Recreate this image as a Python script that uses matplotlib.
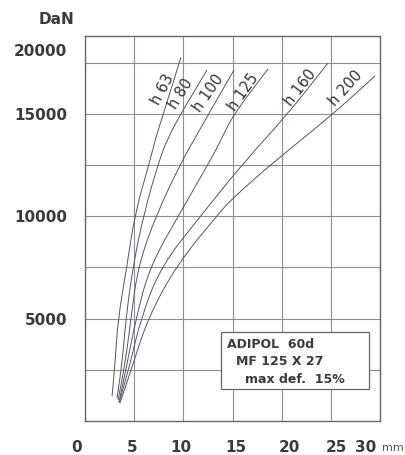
import numpy as np
import matplotlib
matplotlib.use("Agg")
import matplotlib.pyplot as plt
from matplotlib.patches import Rectangle, PathPatch
from matplotlib.path import Path
from matplotlib.transforms import ScaledTranslation

# деформация, мм (ось X) и нагрузка, DaN (ось Y) для каждой высоты h
names = ["h 63", "h 80", "h 100", "h 125", "h 160", "h 200"]

x_h63 = [2.75, 3.05, 3.36, 4.27, 5.08, 6.61, 7.12, 7.93, 9.76]
y_h63 = [1220, 2780, 5030, 7570, 10160, 12700, 13720, 14940, 17770]

x_h80 = [3.25, 3.76, 4.17, 4.88, 6.00, 7.53, 8.34, 9.66, 12.41]
y_h80 = [1120, 2780, 5030, 7570, 10160, 12700, 13720, 14940, 17140]

x_h100 = [3.36, 4.07, 4.68, 5.39, 7.32, 9.86, 11.08, 12.51, 15.15]
y_h100 = [1030, 2780, 5030, 7570, 10160, 12700, 13720, 14940, 17140]

x_h125 = [3.46, 4.27, 5.19, 6.61, 9.66, 12.71, 13.83, 15.05, 18.61]
y_h125 = [930, 2780, 5030, 7570, 10160, 12700, 13720, 14940, 17190]

x_h160 = [3.46, 4.58, 5.69, 7.73, 12.00, 16.27, 20.54, 24.71]
y_h160 = [880, 2780, 5030, 7570, 10160, 12700, 14940, 17480]

x_h200 = [3.56, 4.88, 6.41, 9.25, 13.63, 15.15, 19.32, 25.12, 29.49]
y_h200 = [880, 2780, 5030, 7570, 10160, 10940, 12700, 14940, 16850]

xs = [x_h63, x_h80, x_h100, x_h125, x_h160, x_h200]
ys = [y_h63, y_h80, y_h100, y_h125, y_h160, y_h200]

x_ticks = [0, 5, 10, 15, 20, 25, 30]
y_grid = [2500, 5000, 7500, 10000, 12500, 15000, 17500]
y_labels = ["", "5000", "", "10000", "", "15000", ""]

info = ["ADIPOL  60d", "MF 125 X 27", "max def.  15%"]

# подписи кривых: позиция (x, y) и угол
label_pos = [(7.93, 16160), (9.76, 15970), (12.51, 16020),
             (16.07, 16070), (21.86, 16260), (26.54, 16260)]
label_rot = [62, 58, 55, 55, 52, 48]

# сдвиг подписей оси X в пикселях (как на скане)
x_lab_shift = [-8, -2, -2, 3, 8, 6, -14]

txt = "#3a3a3a"
grid_c = "#8c8c9c"
line_c = "#55555f"


def smooth_path(x, y):
    # квадратичные кривые Безье через середины отрезков
    pts = list(zip(x, y))
    verts = [pts[0]]
    codes = [Path.MOVETO]
    mid = lambda a, b: ((a[0] + b[0]) / 2, (a[1] + b[1]) / 2)
    verts.append(mid(pts[0], pts[1]))
    codes.append(Path.LINETO)
    for i in range(1, len(pts) - 1):
        verts += [pts[i], mid(pts[i], pts[i + 1])]
        codes += [Path.CURVE3, Path.CURVE3]
    verts.append(pts[-1])
    codes.append(Path.LINETO)
    return Path(verts, codes)


def main():
    fig = plt.figure(figsize=(4.06, 4.55), dpi=100)
    ax = fig.add_axes([0.2094, 0.0747, 0.7266, 0.8462])

    ax.set_xlim(0, 30)
    ax.set_ylim(0, 18800)

    # сетка
    ax.set_xticks(x_ticks)
    ax.set_yticks(y_grid)
    ax.set_yticklabels(y_labels)
    ax.grid(True, color=grid_c, linewidth=0.8)
    ax.set_axisbelow(True)
    ax.tick_params(length=0, labelsize=11, labelcolor=txt)
    ax.tick_params(axis="y", pad=13)
    ax.tick_params(axis="x", pad=14)
    for lab in ax.get_xticklabels() + ax.get_yticklabels():
        lab.set_fontweight("bold")
    for lab, dx in zip(ax.get_xticklabels(), x_lab_shift):
        lab.set_transform(lab.get_transform() +
                          ScaledTranslation(dx / 100, 0, fig.dpi_scale_trans))
    for sp in ax.spines.values():
        sp.set_color("#666666")
        sp.set_linewidth(1.0)

    # кривые
    for x, y in zip(xs, ys):
        ax.add_patch(PathPatch(smooth_path(x, y), facecolor="none",
                               edgecolor=line_c, linewidth=0.7, zorder=3))

    for name, (px, py), rot in zip(names, label_pos, label_rot):
        ax.text(px, py, name, rotation=rot, rotation_mode="anchor",
                ha="center", va="center", fontsize=10.5, color="#333333",
                zorder=4)

    # рамка с описанием
    box = Rectangle((0.461, 0.083), 0.502, 0.148, transform=ax.transAxes,
                    facecolor="white", edgecolor="#666666", linewidth=0.9,
                    zorder=5)
    ax.add_patch(box)
    for i, (line, dx) in enumerate(zip(info, [0.481, 0.512, 0.542])):
        ax.text(dx, 0.200 - i * 0.0455, line, transform=ax.transAxes,
                ha="left", va="center", fontsize=9, fontweight="bold",
                color=txt, zorder=6)

    # подписи осей
    fig.text(57 / 406, 1 - 19 / 455, "DaN", ha="center", va="center",
             fontsize=11, fontweight="bold", color=txt)
    ax.text(-0.0610, 0.961, "20000", transform=ax.transAxes, ha="right",
            va="center", fontsize=11, fontweight="bold", color=txt)
    fig.text(382 / 406, 1 - 448 / 455, "mm", ha="left", va="center",
             fontsize=8, color="#555555")

    fig.savefig("out.png", dpi=100)


if __name__ == '__main__':
    main()
